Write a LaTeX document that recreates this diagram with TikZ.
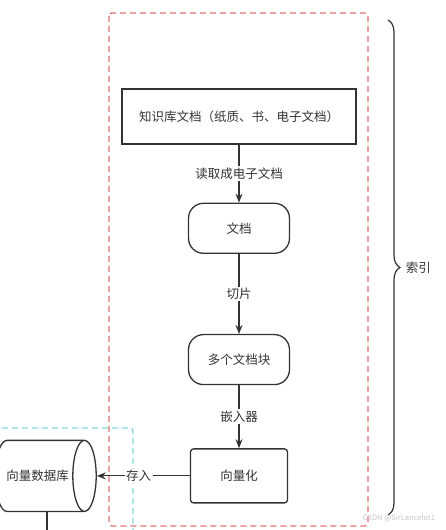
\documentclass[tikz,border=0pt]{standalone}
\usepackage{fontspec}
\setmainfont{Noto Sans CJK SC}
\definecolor{lineg}{HTML}{333333}
\definecolor{frred}{HTML}{E07272}
\definecolor{frcyan}{HTML}{86D9D9}
\usetikzlibrary{arrows.meta, shapes.geometric, positioning, decorations.pathreplacing}

\begin{document}
\begin{tikzpicture}[x=1pt, y=1pt,
    font=\fontsize{12.5}{15}\selectfont,
    box/.style={rectangle, draw=lineg, line width=1.3pt, text=lineg,
                inner sep=2pt, align=center},
    pill/.style={box, rounded corners=15pt, minimum width=101pt, minimum height=50pt},
    lbl/.style={fill=white, inner sep=1.5pt, text=lineg},
    arr/.style={-{Stealth[length=9pt, width=7pt]}, line width=1.2pt, lineg},
    frame/.style={dashed, dash pattern=on 6pt off 4pt, line width=1.3pt, rounded corners=3pt}
  ]
  \useasboundingbox (0,0) rectangle (445,530);

  % Rahmen
  \draw[frame, frcyan] (-5,102) rectangle (133,-10);
  \draw[frame, frred] (109,517) rectangle (368,4);

  \node[box, minimum width=234pt, minimum height=55pt] (kb) at (239,413.5)
       {知识库文档（纸质、书、电子文档）};
  \node[pill, below=58pt of kb] (doc) {文档};
  \node[pill, below=80pt of doc] (chunks) {多个文档块};
  \node[box, rounded corners=3pt, minimum width=97pt, minimum height=54pt,
        below=63pt of chunks] (vec) {向量化};
  \node[cylinder, draw=lineg, line width=1.3pt, text=lineg, aspect=1.5,
        minimum width=71pt, minimum height=101pt, inner sep=2pt,
        left=93pt of vec] (db) {向量数据库};

  \draw[arr] (kb) -- node[lbl] {读取成电子文档} (doc);
  \draw[arr] (doc) -- node[lbl] {切片} (chunks);
  \draw[arr] (chunks) -- node[lbl] {嵌入器} (vec);
  \draw[arr] (vec) -- node[lbl, pos=0.55] {存入} (db);

  \coordinate (dbtail) at (47,-5);
  \draw[line width=1.2pt, lineg] (db.south -| dbtail) -- (dbtail);

  % Klammer
  \draw[decorate, decoration={brace, amplitude=12pt}, line width=1.2pt, lineg]
       (388,510) -- node[right=14pt, text=lineg] (idx) {索引} (388,15);

  \node[text=gray!45, font=\fontsize{7.5}{9}\selectfont] (wm) at (399,12) {CSDN @SirLancelot1};
\end{tikzpicture}
\end{document}
